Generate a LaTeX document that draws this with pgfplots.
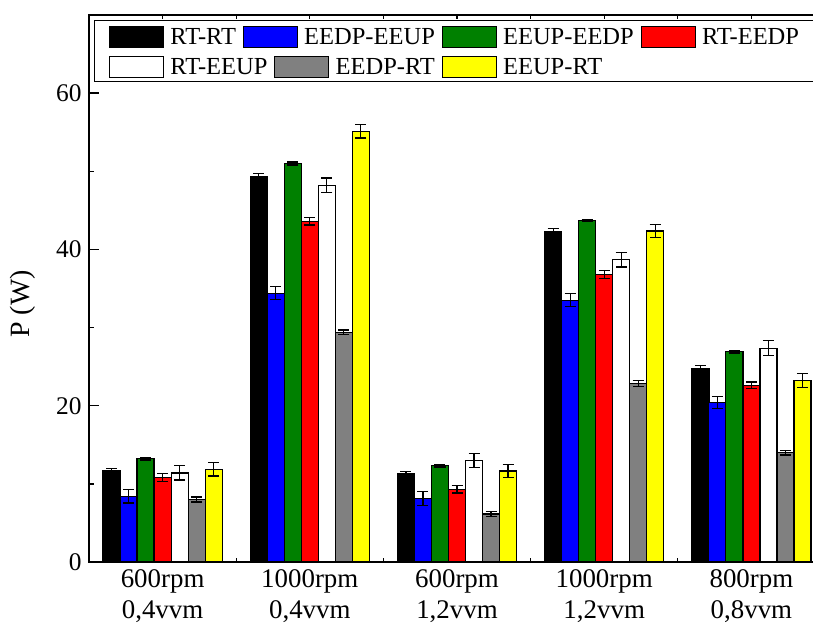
\documentclass[border=0pt]{standalone}
\usepackage{fontspec}
\setmainfont{Liberation Serif}
\usepackage{pgfplots}
\usepackage{pgfplotstable}
\pgfplotsset{compat=1.18}
\usetikzlibrary{calc}
\definecolor{cblue}{RGB}{0,0,255}
\definecolor{cgreen}{RGB}{0,128,0}
\definecolor{cred}{RGB}{255,0,0}
\definecolor{cgray}{RGB}{128,128,128}
\definecolor{cyellow}{RGB}{255,255,0}

\pgfplotstableread{
x a ea b eb c ec d ed e ee f ef g eg
0 11.65 0.35 8.4 0.85 13.2 0.15 10.8 0.5 11.4 0.9 8.0 0.33 11.85 0.85
1 49.3 0.4 34.4 0.85 51.0 0.2 43.6 0.47 48.2 0.95 29.4 0.3 55.1 0.85
2 11.3 0.33 8.1 0.9 12.3 0.15 9.3 0.47 13.0 0.9 6.15 0.3 11.65 0.85
3 42.3 0.35 33.5 0.85 43.7 0.15 36.8 0.47 38.7 0.95 22.85 0.38 42.35 0.85
4 24.7 0.42 20.4 0.8 26.9 0.15 22.6 0.43 27.35 0.95 14.0 0.3 23.2 0.9
}\data

\pgfplotsset{
  legbox/.style={
    legend image code/.code={\draw[##1,line width=1bp] (0bp,-10.35bp) rectangle (53.7bp,10.35bp);},
    legend columns=-1,
    legend style={draw=none, fill=none, inner sep=0pt, anchor=west,
      font=\fontsize{24.6}{28}\selectfont,
      nodes={inner sep=0pt},
      /tikz/every odd column/.append style={column sep=6.5bp},
      /tikz/every even column/.append style={column sep=7bp}},
  }
}

\begin{document}
\begin{tikzpicture}
\begin{axis}[
  scale only axis, width=736bp, height=547bp,
  xmin=-0.5, xmax=4.5, ymin=0, ymax=70,
  ybar, bar width=0.1155,
  axis line style={line width=1.6bp},
  tick align=inside,
  every tick/.style={black, line width=1.3bp},
  major tick length=10bp, minor tick length=5bp,
  every major x tick/.append style={/pgfplots/major tick length=4bp},
  every minor x tick/.append style={/pgfplots/minor tick length=4bp},
  xtick={0,1,2,3,4},
  minor xtick={0.5,1.5,2.5,3.5},
  xticklabels={{600rpm\\0,4vvm},{1000rpm\\0,4vvm},{600rpm\\1,2vvm},{1000rpm\\1,2vvm},{800rpm\\0,8vvm}},
  xticklabel style={align=center, font=\fontsize{27}{31}\selectfont, yshift=-4bp},
  ytick={0,20,40,60}, minor ytick={10,30,50},
  ytick pos=left,
  yticklabel style={font=\fontsize{25.5}{30}\selectfont, xshift=-4bp},
  /pgf/number format/assume math mode=true,
  ylabel={P (W)},
  ylabel style={at={(rel axis cs:-0.0904,0.4717)}, anchor=center, font=\fontsize{28}{32}\selectfont},
  legbox,
  legend style={at={(rel axis cs:0.02717,0.9598)}},
  error bars/error bar style={line width=1.2bp, black},
  error bars/error mark options={line width=1.2bp, mark size=5.5bp, black, rotate=90},
  clip=false,
]
\addplot[fill=black, draw=black, line width=1.2bp, bar shift=-3*0.1155,
  error bars/.cd, y dir=both, y explicit] table[x=x, y=a, y error=ea]{\data};
\addlegendentry{RT-RT}
\addplot[fill=cblue, draw=black, line width=1.2bp, bar shift=-2*0.1155,
  error bars/.cd, y dir=both, y explicit] table[x=x, y=b, y error=eb]{\data};
\addlegendentry{EEDP-EEUP}
\addplot[fill=cgreen, draw=black, line width=1.2bp, bar shift=-1*0.1155,
  error bars/.cd, y dir=both, y explicit] table[x=x, y=c, y error=ec]{\data};
\addlegendentry{EEUP-EEDP}
\addplot[fill=cred, draw=black, line width=1.2bp, bar shift=0,
  error bars/.cd, y dir=both, y explicit] table[x=x, y=d, y error=ed]{\data};
\addlegendentry{RT-EEDP}
\addplot[forget plot, fill=white, draw=black, line width=1.2bp, bar shift=1*0.1155,
  error bars/.cd, y dir=both, y explicit] table[x=x, y=e, y error=ee]{\data};
\addplot[forget plot, fill=cgray, draw=black, line width=1.2bp, bar shift=2*0.1155,
  error bars/.cd, y dir=both, y explicit] table[x=x, y=f, y error=ef]{\data};
\addplot[forget plot, fill=cyellow, draw=black, line width=1.2bp, bar shift=3*0.1155,
  error bars/.cd, y dir=both, y explicit] table[x=x, y=g, y error=eg]{\data};
\coordinate (sw) at (rel axis cs:0,0);
\coordinate (ne) at (rel axis cs:1,1);
\end{axis}
\begin{axis}[
  scale only axis, width=736bp, height=547bp,
  xmin=0, xmax=1, ymin=0, ymax=1, hide axis,
  legbox,
  legend style={at={(rel axis cs:0.02717,0.9044)}},
]
\addlegendimage{fill=white, draw=black}
\addlegendentry{RT-EEUP}
\addlegendimage{fill=cgray, draw=black}
\addlegendentry{EEDP-RT}
\addlegendimage{fill=cyellow, draw=black}
\addlegendentry{EEUP-RT}
\end{axis}
\draw[line width=1bp] ($(sw)+(5bp,480.5bp)$) rectangle ($(ne)+(20bp,-5.7bp)$);
\pgfresetboundingbox
\path[use as bounding box] ($(sw)+(-89bp,-65bp)$) rectangle ($(sw)+(724bp,562bp)$);
\end{tikzpicture}
\end{document}
